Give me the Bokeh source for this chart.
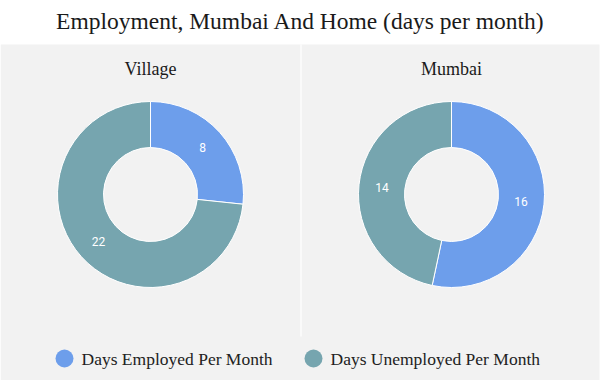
import numpy as np
from bokeh.plotting import figure
from bokeh.models import Range1d, BoxAnnotation
from bokeh.core.properties import value
from bokeh.embed import file_html
from bokeh.resources import INLINE

# ---- data ----
title = "Employment, Mumbai And Home (days per month)"
panels = ["Village", "Mumbai"]
categories = ["Days Employed Per Month", "Days Unemployed Per Month"]
colors = ["#6d9eeb", "#76a5af"]
village_values = [8, 22]
mumbai_values = [16, 14]

W, H = 600, 380


def Y(ref_y):
    # convert reference-pixel y (top-down) to data y (bottom-up)
    return H - ref_y


p = figure(width=W, height=H, output_backend="svg", toolbar_location=None,
           x_range=Range1d(0, W), y_range=Range1d(0, H),
           x_axis_type=None, y_axis_type=None, min_border=0,
           background_fill_color="white", border_fill_color="white",
           outline_line_color=None)
p.grid.visible = False

# grey panel background
p.add_layout(BoxAnnotation(left=0, right=599, bottom=0, top=Y(44),
                           fill_color="#f2f2f2", fill_alpha=1, line_color=None,
                           level="underlay"))
# white divider
p.segment(x0=[300.5], y0=[Y(44)], x1=[300.5], y1=[Y(336)], line_color="white", line_width=1.2)

# title
p.text(x=[300], y=[Y(20)], text=[title], text_font=value("Liberation Serif"),
       text_font_size="23.5px", text_align="center", text_baseline="middle",
       text_color="#1a1a1a")

centers_x = [150, 451]
center_y = Y(194)
r_out, r_in = 93, 47

for cx, name, vals in zip(centers_x, panels, [village_values, mumbai_values]):
    vals = np.array(vals, dtype=float)
    total = vals.sum()
    cum = np.concatenate([[0], np.cumsum(vals)])
    start = np.pi / 2 - 2 * np.pi * cum[:-1] / total
    end = np.pi / 2 - 2 * np.pi * cum[1:] / total
    p.annular_wedge(x=[cx] * len(vals), y=[center_y] * len(vals),
                    inner_radius=r_in, outer_radius=r_out,
                    start_angle=list(start), end_angle=list(end), direction="clock",
                    fill_color=colors, line_color="white", line_width=1)
    mid = (start + end) / 2
    rl = (r_in + r_out) / 2
    p.text(x=list(cx + rl * np.cos(mid)), y=list(center_y + rl * np.sin(mid)),
           text=[str(int(v)) for v in vals], text_font=value("Roboto"),
           text_font_size="12px", text_color="white",
           text_align="center", text_baseline="middle")
    p.text(x=[cx], y=[Y(68)], text=[name], text_font=value("Liberation Serif"),
           text_font_size="18px", text_align="center", text_baseline="middle",
           text_color="#1a1a1a")

# legend
leg_x = [64, 313]
p.circle(x=leg_x, y=[Y(358)] * 2, radius=9, fill_color=colors, line_color=None)
p.text(x=[x + 17 for x in leg_x], y=[Y(358)] * 2, text=categories,
       text_font=value("Liberation Serif"), text_font_size="17.5px",
       text_align="left", text_baseline="middle", text_color="#222222")

open("out.html", "w").write(file_html(p, INLINE))
